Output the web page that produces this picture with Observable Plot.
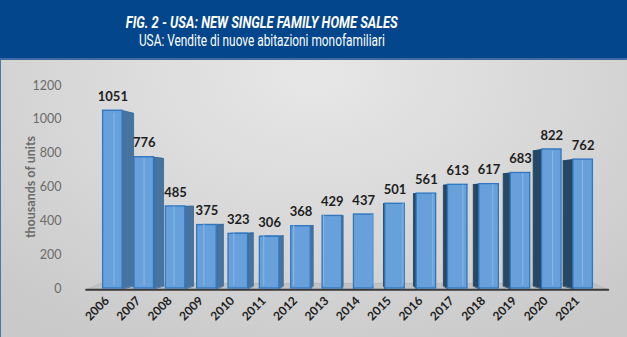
<!DOCTYPE html>
<html>
<head>
<meta charset="utf-8">
<script src="https://cdn.jsdelivr.net/npm/d3@7"></script>
<script src="https://cdn.jsdelivr.net/npm/@observablehq/plot@0.6"></script>
<style>
  html, body { margin: 0; padding: 0; background: #ffffff; }
  #wrap { position: relative; width: 627px; height: 337px; overflow: hidden; font-family: Lato, "Open Sans", sans-serif; }
  #head { position: absolute; left: 0; top: 0; width: 627px; height: 58px; background: #03468b; border-bottom: 2px solid #3d6ca4; }
  .ht { position: absolute; left: 0; width: 524px; text-align: center; color: #ffffff; white-space: nowrap; }
  .ht span { display: inline-block; transform-origin: 50% 50%; }
  #title { top: 14px; font-size: 16px; line-height: 18px; font-weight: bold; font-style: italic; font-family: Roboto, Lato, sans-serif; }
  #subtitle { top: 32px; font-size: 16px; line-height: 18px; font-family: Roboto, Lato, sans-serif; }
  #chart { position: absolute; left: 0; top: 60px; width: 627px; height: 277px;
    background: radial-gradient(ellipse 75% 110% at 50% 5%, #e7e7e7 0%, #dadada 45%, #c9c9c9 100%); }
  #edge { position: absolute; left: 0; top: 60px; width: 1px; height: 277px; background: #4a78ae; }
</style>
</head>
<body>
<div id="wrap">
  <div id="head">
    <div class="ht" id="title"><span>FIG. 2 - USA: NEW SINGLE FAMILY HOME SALES</span></div>
    <div class="ht" id="subtitle"><span>USA: Vendite di nuove abitazioni monofamiliari</span></div>
  </div>
  <div id="chart"></div>
  <div id="edge"></div>
</div>
<script>
const years = ["2006","2007","2008","2009","2010","2011","2012","2013","2014","2015","2016","2017","2018","2019","2020","2021"];
const sales = [1051, 776, 485, 375, 323, 306, 368, 429, 437, 501, 561, 613, 617, 683, 822, 762];
const yTicks = [0, 200, 400, 600, 800, 1000, 1200];
const yLabel = "thousands of units";

const W = 627, H = 277, ML = 81, MR = 13, MT = 25, MB = 49;
const xDomain = [-1, 16];
const pxX = (xDomain[1] - xDomain[0]) / (W - ML - MR);

const data = years.map((year, i) => ({i, year, v: sales[i]}));

// pseudo-3D geometry (in scale units)
const hw = 9.75 * pxX;
const shift = i => (11 - 1.42 * i) * pxX;
const vc = 520, k = 0.03;
const back = v => v + (vc - v) * k;

const sidePts = [], topPts = [];
data.forEach(d => {
  const s = shift(d.i);
  const e = s >= 0 ? d.i + hw : d.i - hw;
  [[e, 0], [e, d.v], [e + s, back(d.v)], [e + s, back(0)]].forEach(p => sidePts.push({id: d.i, x: p[0], y: p[1], s}));
  [[d.i - hw, d.v], [d.i + hw, d.v], [d.i + hw + s, back(d.v)], [d.i - hw + s, back(d.v)]].forEach(p => topPts.push({id: d.i, x: p[0], y: p[1]}));
});
const rightSides = sidePts.filter(p => p.s >= 0);
const leftSides = sidePts.filter(p => p.s < 0);

const floorPts = [
  {x: -0.853, y: -8}, {x: -0.407, y: 30}, {x: 15.32, y: 30}, {x: 15.80, y: -8}
];

const chart = Plot.plot({
  width: W, height: H,
  marginLeft: ML, marginRight: MR, marginTop: MT, marginBottom: MB,
  x: {domain: xDomain, axis: null},
  y: {domain: [0, 1200], axis: null},
  style: {background: "transparent", fontFamily: "Lato, 'Open Sans', sans-serif", overflow: "visible"},
  marks: [
    Plot.line(floorPts, {x: "x", y: "y", fill: "#c2c2c2", stroke: "#b4b4b4", strokeWidth: 0.8, curve: "linear-closed"}),
    Plot.line([floorPts[0], floorPts[3]], {x: "x", y: "y", stroke: "#3a3a3a", strokeWidth: 2}),
    Plot.line(topPts, {x: "x", y: "y", z: "id", fill: "#8bb9e4", stroke: "#3b7cc0", strokeWidth: 0.8, curve: "linear-closed"}),
    Plot.line(rightSides, {x: "x", y: "y", z: "id", fill: "#46749f", stroke: "#36679a", strokeWidth: 0.8, curve: "linear-closed"}),
    Plot.line(leftSides, {x: "x", y: "y", z: "id", fill: "#274864", stroke: "#22405a", strokeWidth: 0.8, curve: "linear-closed"}),
    Plot.rect(data, {x1: d => d.i - hw, x2: d => d.i + hw, y1: 0, y2: "v", fill: "#67a0da", stroke: "#2f77c0", strokeWidth: 1.3}),
    Plot.ruleX(data, {x: d => { const s = shift(d.i); return s >= 0 ? d.i - hw + s : d.i + hw + s; },
      y1: () => back(0), y2: d => back(d.v), stroke: "#8ab9e6", strokeWidth: 1}),
    Plot.text(data, {x: "i", y: "v", text: d => String(d.v), dy: -14, fontSize: 13, fontWeight: "bold", fill: "#1e1e1e"}),
    Plot.text(yTicks, {x: xDomain[0], y: d => d, text: d => String(d), textAnchor: "end", dx: -20, fontSize: 12.5, fill: "#6b6b6b"}),
    Plot.text([yLabel], {frameAnchor: "left", textAnchor: "middle", rotate: -90, dx: -51, fontSize: 12.5, fontWeight: "bold", fill: "#6b6b6b"}),
    Plot.text(data, {x: "i", frameAnchor: "bottom", text: "year", rotate: -45, textAnchor: "end", dx: -3, dy: 13, fontSize: 12, fontWeight: "bold", fill: "#1e1e1e"})
  ]
});
document.getElementById("chart").appendChild(chart);

// fit header text widths to the reference
function fit(id, target) {
  const span = document.querySelector("#" + id + " span");
  const w = span.getBoundingClientRect().width;
  if (w > 0) span.style.transform = "scaleX(" + (target / w) + ")";
}
fit("title", 272);
fit("subtitle", 246);
</script>
</body>
</html>
